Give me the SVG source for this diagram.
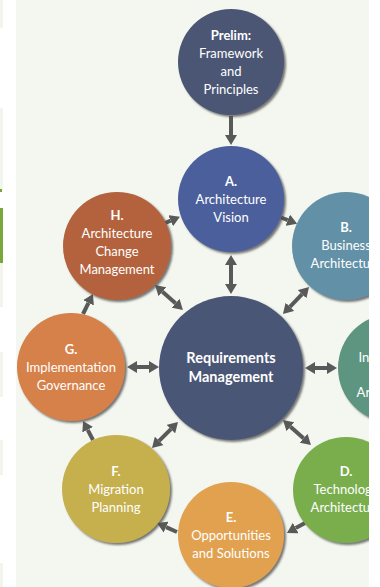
<svg xmlns="http://www.w3.org/2000/svg" width="380" height="587" viewBox="0 0 380 587">
<defs>
<style>
.bg{fill:#f4f7ef}
.node{filter:url(#sh)}
.t{font-family:Lato,"Open Sans","DejaVu Sans",sans-serif;font-size:13px;fill:#ffffff;text-anchor:middle}
.b{font-weight:bold}
.big{font-size:14.5px;font-weight:bold}
.arr{stroke:#595959;stroke-width:4;fill:none}
.strip{fill:#f2f5ec}
</style>
<filter id="sh" x="-20%" y="-20%" width="150%" height="150%">
<feDropShadow dx="2" dy="2" stdDeviation="1" flood-color="#4a4a4a" flood-opacity="0.75"/>
</filter>
<clipPath id="panel">
<rect x="16" y="0" width="353" height="587"/>
</clipPath>
<marker id="ah" viewBox="0 -6 10 12" refX="0" refY="0" markerWidth="10" markerHeight="12" markerUnits="userSpaceOnUse" orient="auto-start-reverse">
<path d="M0,-6 L10,0 L0,6 z" fill="#595959"/>
</marker>
</defs>
<rect x="0" y="0" width="380" height="587" fill="#ffffff"/>
<rect class="bg" x="16" y="0" width="353" height="587"/>
<g id="left-strip">
<rect class="strip" x="0" y="0" width="3" height="28"/>
<rect class="strip" x="0" y="108" width="3" height="82"/>
<rect x="0" y="189" width="2" height="3" fill="#7aa33a"/>
<rect x="0" y="208" width="3" height="55" fill="#78a83a"/>
<rect class="strip" x="0" y="263" width="3" height="44"/>
<rect class="strip" x="0" y="352" width="3" height="45"/>
<rect class="strip" x="0" y="440" width="3" height="35"/>
<rect class="strip" x="0" y="563" width="3" height="24"/>
</g>
<g id="connectors">
<line class="arr" x1="231" y1="116" x2="231" y2="135" marker-end="url(#ah)"/>
<line class="arr" x1="231" y1="265" x2="231" y2="284" marker-start="url(#ah)" marker-end="url(#ah)"/>
<line class="arr" x1="281" y1="217.5" x2="287.8" y2="220.1" marker-end="url(#ah)"/>
<line class="arr" x1="289.9" y1="306.8" x2="302.1" y2="294.2" marker-start="url(#ah)" marker-end="url(#ah)"/>
<line class="arr" x1="315" y1="368" x2="327" y2="368" marker-start="url(#ah)" marker-end="url(#ah)"/>
<line class="arr" x1="290.5" y1="426.7" x2="303.5" y2="438.3" marker-start="url(#ah)" marker-end="url(#ah)"/>
<line class="arr" x1="305" y1="523" x2="295.7" y2="528.1" marker-end="url(#ah)"/>
<line class="arr" x1="177" y1="532" x2="166.1" y2="527.1" marker-end="url(#ah)"/>
<line class="arr" x1="159.1" y1="440.9" x2="170.9" y2="429.1" marker-start="url(#ah)" marker-end="url(#ah)"/>
<line class="arr" x1="93" y1="440" x2="87.7" y2="429.8" marker-end="url(#ah)"/>
<line class="arr" x1="137" y1="367" x2="149" y2="367" marker-start="url(#ah)" marker-end="url(#ah)"/>
<line class="arr" x1="83" y1="314" x2="88.5" y2="302.9" marker-end="url(#ah)"/>
<line class="arr" x1="162.5" y1="291.7" x2="175.5" y2="303.3" marker-start="url(#ah)" marker-end="url(#ah)"/>
<line class="arr" x1="164" y1="223.5" x2="170.7" y2="220.7" marker-end="url(#ah)"/>
</g>
<g id="prelim">
<circle class="node" cx="231" cy="62" r="53" fill="#4b5674"/>
<text class="t b" x="231" y="40">Prelim:</text>
<text class="t" x="231" y="58">Framework</text>
<text class="t" x="231" y="76">and</text>
<text class="t" x="231" y="94">Principles</text>
</g>
<g id="phase-a">
<circle class="node" cx="231" cy="199" r="53" fill="#4c5f9c"/>
<text class="t b" x="231" y="186">A.</text>
<text class="t" x="231" y="204">Architecture</text>
<text class="t" x="231" y="222">Vision</text>
</g>
<g id="phase-b" clip-path="url(#panel)">
<circle class="node" cx="346" cy="246" r="54" fill="#6290a6"/>
<text class="t b" x="346" y="232">B.</text>
<text class="t" x="346" y="250">Business</text>
<text class="t" x="346" y="268">Architecture</text>
</g>
<g id="phase-c" clip-path="url(#panel)">
<circle class="node" cx="392" cy="368" r="54" fill="#5d9581"/>
<text class="t b" x="392" y="344">C.</text>
<text class="t" x="392" y="362">Information</text>
<text class="t" x="392" y="380">Systems</text>
<text class="t" x="392" y="397">Architecture</text>
</g>
<g id="phase-d" clip-path="url(#panel)">
<circle class="node" cx="346" cy="490" r="53" fill="#7aae4e"/>
<text class="t b" x="346" y="476">D.</text>
<text class="t" x="346" y="494">Technology</text>
<text class="t" x="346" y="512">Architecture</text>
</g>
<g id="phase-e">
<circle class="node" cx="231" cy="535" r="53" fill="#e1a14f"/>
<text class="t b" x="231" y="522">E.</text>
<text class="t" x="231" y="540">Opportunities</text>
<text class="t" x="231" y="558">and Solutions</text>
</g>
<g id="phase-f">
<circle class="node" cx="116" cy="489" r="54" fill="#c6b04e"/>
<text class="t b" x="116" y="476">F.</text>
<text class="t" x="116" y="494">Migration</text>
<text class="t" x="116" y="512">Planning</text>
</g>
<g id="phase-g">
<circle class="node" cx="71" cy="367" r="54" fill="#d6814a"/>
<text class="t b" x="71" y="354">G.</text>
<text class="t" x="71" y="372">Implementation</text>
<text class="t" x="71" y="390">Governance</text>
</g>
<g id="phase-h">
<circle class="node" cx="117" cy="246" r="54" fill="#b4623d"/>
<text class="t b" x="117" y="220">H.</text>
<text class="t" x="117" y="238">Architecture</text>
<text class="t" x="117" y="256">Change</text>
<text class="t" x="117" y="274">Management</text>
</g>
<g id="requirements">
<circle class="node" cx="231" cy="368" r="72" fill="#4a5675"/>
<text class="t big" x="231" y="363">Requirements</text>
<text class="t big" x="231" y="382">Management</text>
</g>
</svg>
